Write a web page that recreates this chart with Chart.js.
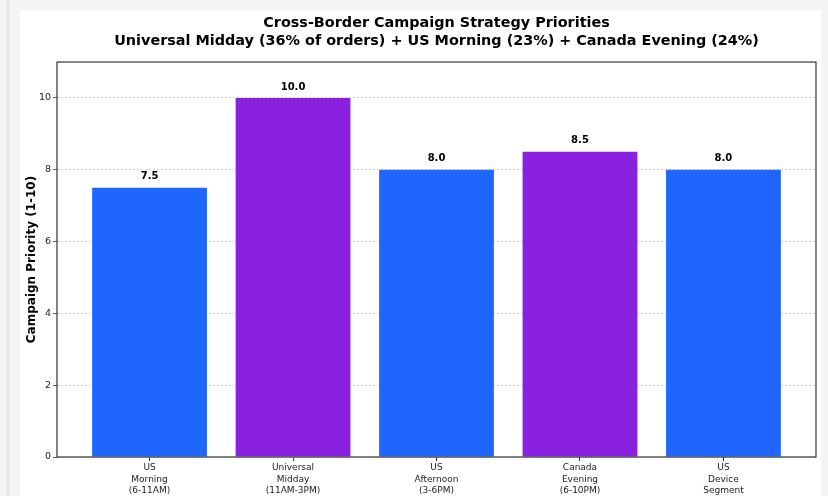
<!DOCTYPE html>
<html>
<head>
<meta charset="utf-8">
<script src="https://cdn.jsdelivr.net/npm/chart.js@4/dist/chart.umd.min.js"></script>
<style>
  html, body { margin: 0; padding: 0; background: #f4f4f4; }
  body { width: 828px; height: 496px; position: relative; overflow: hidden; }
  #edge { position: absolute; left: 7px; top: 0; width: 2px; height: 496px; background: #e6e6e6; }
  #panel { position: absolute; left: 20px; top: 10px; width: 801px; height: 486px; background: #ffffff; }
  canvas { display: block; }
</style>
</head>
<body>
<div id="edge"></div>
<div id="panel"><canvas id="chart" width="801" height="486"></canvas></div>
<script>
// Categories (multi-line tick labels), values and colours.
const categories = [
  ["US", "Morning", "(6-11AM)"],
  ["Universal", "Midday", "(11AM-3PM)"],
  ["US", "Afternoon", "(3-6PM)"],
  ["Canada", "Evening", "(6-10PM)"],
  ["US", "Device", "Segment"],
];
const priorities = [7.5, 10.0, 8.0, 8.5, 8.0];
const barColors = ["#1f66ff", "#8a20e0", "#1f66ff", "#8a20e0", "#1f66ff"];
const yTicks = [0, 2, 4, 6, 8, 10];
const titleLines = [
  "Cross-Border Campaign Strategy Priorities",
  "Universal Midday (36% of orders) + US Morning (23%) + Canada Evening (24%)",
];

const FONT = "'DejaVu Sans', sans-serif";

// Value labels above each bar and a full frame around the plot.
const barLabels = {
  id: "barLabels",
  afterDatasetsDraw(chart) {
    const { ctx } = chart;
    const meta = chart.getDatasetMeta(0);
    ctx.save();
    ctx.font = `bold 10px ${FONT}`;
    ctx.fillStyle = "#000";
    ctx.textAlign = "center";
    ctx.textBaseline = "middle";
    meta.data.forEach((bar, i) => {
      ctx.fillText(priorities[i].toFixed(1), bar.x, bar.y - 11);
    });
    ctx.restore();
  },
  afterDraw(chart) {
    const { ctx, chartArea: a } = chart;
    ctx.save();
    ctx.strokeStyle = "#333";
    ctx.lineWidth = 1.2;
    ctx.strokeRect(a.left, a.top, a.right - a.left, a.bottom - a.top);
    ctx.restore();
  },
};

new Chart(document.getElementById("chart"), {
  type: "bar",
  data: {
    datasets: [
      {
        data: priorities.map((v, i) => ({ x: i, y: v })),
        backgroundColor: barColors,
        borderWidth: 0,
        categoryPercentage: 1,
        barPercentage: 0.8,
      },
    ],
  },
  options: {
    responsive: false,
    animation: false,
    devicePixelRatio: 1,
    layout: { padding: { left: 0, right: 5, top: 0, bottom: 0 } },
    plugins: {
      legend: { display: false },
      tooltip: { enabled: false },
      title: {
        display: true,
        fullSize: false,
        text: titleLines,
        color: "#000",
        font: { family: FONT, size: 14.4, weight: "bold", lineHeight: 1.3 },
        padding: { top: 3.6, bottom: 11 },
      },
    },
    scales: {
      x: {
        type: "linear",
        offset: false,
        min: -0.645,
        max: 4.645,
        afterBuildTicks: (s) => {
          s.ticks = categories.map((_, i) => ({ value: i }));
        },
        afterFit: (s) => {
          s.height = 39;
        },
        ticks: {
          autoSkip: false,
          maxRotation: 0,
          padding: 1,
          color: "#222",
          font: { family: FONT, size: 9, lineHeight: 1.28 },
          callback: (v) => categories[v],
        },
        grid: {
          offset: false,
          drawOnChartArea: false,
          tickLength: 4,
          tickColor: "#333",
        },
        border: { display: false },
      },
      y: {
        min: 0,
        max: 11,
        afterBuildTicks: (s) => {
          s.ticks = yTicks.map((v) => ({ value: v }));
        },
        afterFit: (s) => {
          s.width = 37;
        },
        ticks: {
          padding: 2,
          color: "#222",
          font: { family: FONT, size: 9.5 },
        },
        grid: {
          color: "#c4c4c4",
          lineWidth: 0.8,
          tickLength: 4,
          tickColor: "#333",
          tickBorderDash: [],
        },
        border: { display: false, dash: [2, 2] },
        title: {
          display: true,
          text: "Campaign Priority (1-10)",
          color: "#000",
          font: { family: FONT, size: 12, weight: "bold", lineHeight: 1.2 },
          padding: { top: 5, bottom: 0 },
        },
      },
    },
  },
  plugins: [barLabels],
});
</script>
</body>
</html>
